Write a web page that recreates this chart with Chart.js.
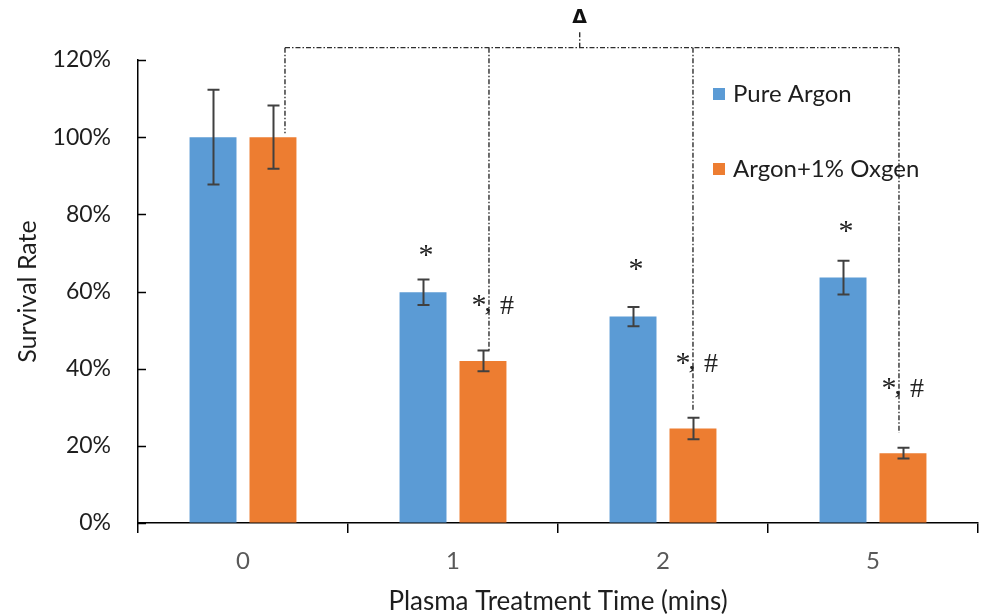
<!DOCTYPE html>
<html>
<head>
<meta charset="utf-8">
<script src="https://cdn.jsdelivr.net/npm/chart.js@4.4.1/dist/chart.umd.min.js"></script>
<style>
html,body{margin:0;padding:0;background:#fff;}
#wrap{width:982px;height:615px;position:relative;}
</style>
</head>
<body>
<div id="wrap"><canvas id="c" width="982" height="615"></canvas></div>
<script>
// ---- data ----
const categories = ['0', '1', '2', '5'];
const seriesNames = ['Pure Argon', 'Argon+1% Oxgen'];
const pureArgon = [100, 59.8, 53.5, 63.6];
const pureArgonErr = [12.3, 3.3, 2.5, 4.4];
const argonOxygen = [100, 42.0, 24.5, 18.1];
const argonOxygenErr = [8.2, 2.7, 2.8, 1.4];
const yTicks = [0, 20, 40, 60, 80, 100, 120];
// significance marks (value where the mark sits)
const starAboveArgon = [null, 70.8, 67.1, 77.0];
const starHashOxygen = [null, 57.8, 42.8, 36.3];
// bracket: vertical dash-dot lines from bracket down to these values
const bracketEnds = [101.0, 44.6, 29.3, 23.3];
const bracketTop = 123.2;
const bracketMark = '\u0394';

const BLUE = '#5B9BD5', ORANGE = '#ED7D31';
const FONT = 'Lato';

const annot = {
  id: 'annot',
  afterDatasetsDraw(chart) {
    const ctx = chart.ctx;
    const y = chart.scales.y;
    const area = chart.chartArea;
    const m0 = chart.getDatasetMeta(0).data, m1 = chart.getDatasetMeta(1).data;
    // error bars
    ctx.save();
    ctx.strokeStyle = '#404040';
    ctx.lineWidth = 2;
    const errs = [pureArgonErr, argonOxygenErr];
    const vals = [pureArgon, argonOxygen];
    [m0, m1].forEach((meta, d) => {
      meta.forEach((bar, i) => {
        const top = y.getPixelForValue(vals[d][i] + errs[d][i]);
        const bot = y.getPixelForValue(vals[d][i] - errs[d][i]);
        const bx = Math.round(bar.x) + 0.5;
        ctx.beginPath();
        ctx.moveTo(bx, top); ctx.lineTo(bx, bot);
        ctx.moveTo(bx - 6, top); ctx.lineTo(bx + 6, top);
        ctx.moveTo(bx - 6, bot); ctx.lineTo(bx + 6, bot);
        ctx.stroke();
      });
    });
    ctx.restore();

    // inward y ticks
    ctx.save();
    ctx.strokeStyle = '#000';
    ctx.lineWidth = 1.5;
    yTicks.forEach(v => {
      const py = Math.round(y.getPixelForValue(v)) + 0.5;
      ctx.beginPath();
      ctx.moveTo(area.left, py); ctx.lineTo(area.left + 8, py);
      ctx.stroke();
    });
    ctx.restore();

    // bracket
    const offs = [12, 6, 0, -4];
    const lx = m1.map((b, i) => b.x + offs[i]);
    const by = y.getPixelForValue(bracketTop);
    ctx.save();
    ctx.strokeStyle = '#2e2e2e';
    ctx.lineWidth = 1.4;
    ctx.setLineDash([5, 2, 1.5, 2]);
    ctx.beginPath();
    ctx.moveTo(lx[0], by); ctx.lineTo(lx[3], by);
    lx.forEach((px, i) => {
      ctx.moveTo(px, by); ctx.lineTo(px, y.getPixelForValue(bracketEnds[i]));
    });
    const sx = lx[0] + 0.48 * (lx[3] - lx[0]);
    ctx.moveTo(sx, by); ctx.lineTo(sx, by - 17);
    ctx.stroke();
    ctx.setLineDash([]);
    ctx.fillStyle = '#111';
    ctx.font = 'bold 19px "DejaVu Sans"';
    ctx.textAlign = 'center';
    ctx.textBaseline = 'middle';
    ctx.fillText(bracketMark, sx, by - 30);

    // stars
    ctx.fillStyle = '#222';
    ctx.textBaseline = 'alphabetic';
    ctx.textAlign = 'center';
    const starFont = '30px "Liberation Serif"';
    ctx.font = starFont;
    m0.forEach((bar, i) => {
      if (starAboveArgon[i] == null) return;
      ctx.fillText('*', bar.x + 3, y.getPixelForValue(starAboveArgon[i]) + 14);
    });
    m1.forEach((bar, i) => {
      if (starHashOxygen[i] == null) return;
      const py = y.getPixelForValue(starHashOxygen[i]);
      ctx.font = starFont;
      ctx.fillText('*', lx[i] - 10, py + 14);
      ctx.font = 'bold 22px "Liberation Serif"';
      ctx.fillText(',', lx[i] - 1, py + 11);
      ctx.font = '28px "Liberation Serif"';
      ctx.fillText('#', lx[i] + 18, py + 14);
    });
    ctx.restore();

    // legend
    ctx.save();
    ctx.font = '24px ' + FONT;
    ctx.textBaseline = 'middle';
    ctx.textAlign = 'left';
    const legendRows = [94, 169];
    chart.data.datasets.forEach((ds, i) => {
      const ly = legendRows[i];
      ctx.fillStyle = ds.backgroundColor;
      ctx.fillRect(713, ly - 6, 12, 12);
      ctx.fillStyle = '#1e1e1e';
      ctx.fillText(ds.label, 733, ly);
    });
    ctx.restore();
  }
};

new Chart(document.getElementById('c'), {
  type: 'bar',
  data: {
    labels: categories,
    datasets: [
      { label: seriesNames[0], data: pureArgon, backgroundColor: BLUE },
      { label: seriesNames[1], data: argonOxygen, backgroundColor: ORANGE }
    ]
  },
  options: {
    responsive: false,
    animation: false,
    events: [],
    categoryPercentage: 0.571,
    barPercentage: 0.783,
    layout: { padding: { top: 60, right: 4, left: 0, bottom: 0 } },
    plugins: { legend: { display: false }, tooltip: { enabled: false } },
    scales: {
      x: {
        grid: { offset: true, drawOnChartArea: false, color: '#000', tickLength: 10, lineWidth: 1.5 },
        border: { color: '#000', width: 1.5 },
        ticks: { color: '#595959', font: { family: FONT, size: 24 }, padding: 14 },
        title: { display: true, text: 'Plasma Treatment Time (mins)', color: '#1e1e1e',
                 font: { family: FONT, size: 26, lineHeight: 1 }, padding: { top: 0, bottom: 0 } },
        afterFit(s) { s.height = 92; }
      },
      y: {
        min: 0, max: 120,
        afterBuildTicks(s) { s.ticks = yTicks.map(v => ({ value: v })); },
        grid: { drawOnChartArea: false, drawTicks: false },
        border: { color: '#000', width: 1.5 },
        ticks: { color: '#1e1e1e', font: { family: FONT, size: 23 }, padding: 27,
                 callback: v => v + '%' },
        title: { display: true, text: 'Survival Rate', color: '#1e1e1e',
                 font: { family: FONT, size: 25, lineHeight: 1 }, padding: { top: 15, bottom: 0 } },
        afterFit(s) { s.width = 138; }
      }
    }
  },
  plugins: [annot]
});
</script>
</body>
</html>
